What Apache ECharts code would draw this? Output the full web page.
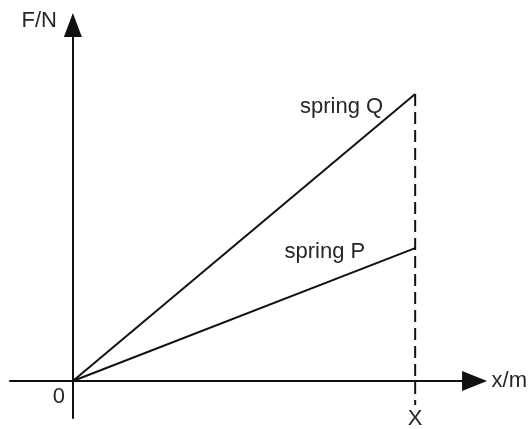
<!DOCTYPE html>
<html>
<head>
<meta charset="utf-8">
<style>
  html, body { margin: 0; padding: 0; background: #fff; }
  #chart { width: 530px; height: 429px; }
</style>
<script src="https://cdn.jsdelivr.net/npm/echarts@6/dist/echarts.min.js"></script>
</head>
<body>
<div id="chart"></div>
<script>
// 数据
const xValues = [0, 10];          // 0 .. X
const springQ = [0, 10];          // F of spring Q
const springP = [0, 4.63];        // F of spring P
const dropLine = [10, -0.84];     // dashed line from Q end down past axis
const tickNames = ['0', 'X'];
const springNames = ['spring Q', 'spring P'];

const font = { fontFamily: 'Liberation Sans, Arial, sans-serif', fontSize: 22, color: '#262626' };

var myChart = echarts.init(document.getElementById('chart'));

function pairs(ys) {
    return xValues.map((x, i) => [x, ys[i]]);
}

var option = {
    animation: false,
    grid: { left: 10, right: 54.5, top: 25, bottom: 11 },
    xAxis: {
        type: 'value',
        min: -1.837,
        max: 11.735,
        name: 'x/m',
        nameLocation: 'end',
        nameGap: 17,
        nameTextStyle: Object.assign({}, font, { verticalAlign: 'middle' }),
        axisLine: {
            onZero: true,
            symbol: ['none', 'triangle'],
            symbolSize: [20, 25],
            lineStyle: { color: '#111', width: 2 }
        },
        axisTick: { show: false },
        axisLabel: { show: false },
        splitLine: { show: false }
    },
    yAxis: {
        type: 'value',
        min: -1.289,
        max: 12.404,
        name: 'F/N',
        nameLocation: 'end',
        nameGap: 4,
        nameTextStyle: Object.assign({}, font, { align: 'right', verticalAlign: 'middle', padding: [0, 16, 0, 0] }),
        axisLine: {
            onZero: true,
            symbol: ['none', 'triangle'],
            symbolSize: [18, 24],
            lineStyle: { color: '#111', width: 2 }
        },
        axisTick: { show: false },
        axisLabel: { show: false },
        splitLine: { show: false }
    },
    series: [
        {
            name: 'spring Q',
            type: 'line',
            symbol: 'none',
            lineStyle: { color: '#111', width: 2 },
            data: pairs(springQ),
            z: 3
        },
        {
            name: 'spring P',
            type: 'line',
            symbol: 'none',
            lineStyle: { color: '#111', width: 2 },
            data: pairs(springP),
            z: 3
        },
        {
            name: 'drop',
            type: 'line',
            symbol: 'none',
            lineStyle: { color: '#111', width: 2, type: [12, 6] },
            data: [[xValues[1], springQ[1]], [dropLine[0], dropLine[1]]],
            z: 2
        },
        {
            name: 'spring labels',
            type: 'scatter',
            symbolSize: 0,
            itemStyle: { opacity: 1 },
            data: [
                {
                    value: [xValues[1], springQ[1]],
                    label: { show: true, position: 'left', distance: 32, offset: [0, 13], formatter: springNames[0], ...font }
                },
                {
                    value: [xValues[1], springP[1]],
                    label: { show: true, position: 'left', distance: 50, offset: [0, 4], formatter: springNames[1], ...font }
                }
            ]
        },
        {
            name: 'ticks',
            type: 'scatter',
            symbolSize: 0,
            itemStyle: { opacity: 1 },
            data: xValues.map((x, i) => ({
                value: [x, 0],
                label: {
                    show: true,
                    position: 'inside',
                    offset: i === 0 ? [-14, 16] : [0, 38],
                    formatter: tickNames[i],
                    ...font
                }
            }))
        }
    ]
};

myChart.setOption(option);
</script>
</body>
</html>
